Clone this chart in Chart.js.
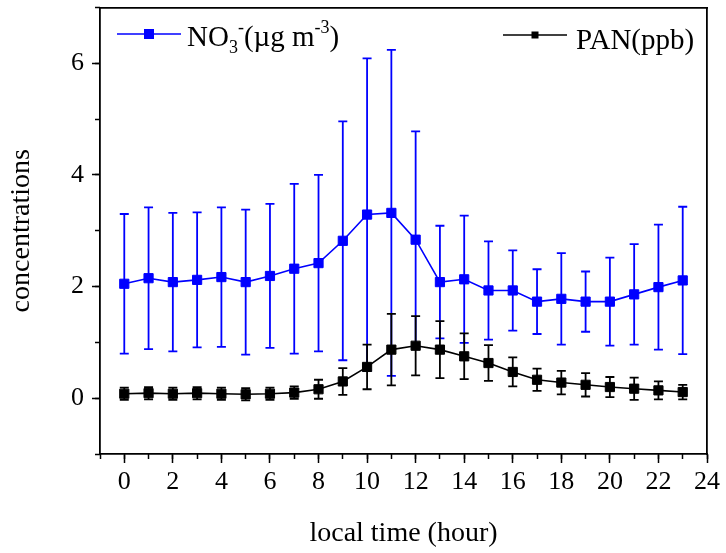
<!DOCTYPE html>
<html>
<head>
<meta charset="utf-8">
<script src="https://cdn.jsdelivr.net/npm/chart.js@4"></script>
<style>
  html, body { margin:0; padding:0; background:#fff; }
  canvas { display:block; }
</style>
</head>
<body>
<canvas id="chart" width="726" height="553"></canvas>
<script>
// hourly means with standard deviations
const hours  = [0,1,2,3,4,5,6,7,8,9,10,11,12,13,14,15,16,17,18,19,20,21,22,23];
const no3    = [2.05,2.15,2.08,2.12,2.17,2.08,2.19,2.32,2.42,2.82,3.29,3.32,2.84,2.08,2.13,1.93,1.93,1.73,1.78,1.73,1.73,1.86,1.99,2.11];
const no3Err = [1.25,1.27,1.24,1.21,1.25,1.30,1.29,1.52,1.58,2.14,2.80,2.92,1.94,1.01,1.14,0.88,0.72,0.58,0.82,0.54,0.79,0.90,1.12,1.32];
const pan    = [0.08,0.09,0.08,0.09,0.08,0.07,0.08,0.10,0.16,0.30,0.56,0.87,0.94,0.87,0.75,0.63,0.47,0.33,0.28,0.24,0.20,0.17,0.14,0.11];
const panErr = [0.11,0.11,0.11,0.11,0.11,0.11,0.11,0.11,0.17,0.24,0.40,0.64,0.53,0.51,0.41,0.32,0.26,0.20,0.21,0.21,0.18,0.20,0.16,0.13];

const xMajorTicks = [0,2,4,6,8,10,12,14,16,18,20,22,24];
const xMinorTicks = [-1,0,1,2,3,4,5,6,7,8,9,10,11,12,13,14,15,16,17,18,19,20,21,22,23,24];
const yMajorTicks = [0,2,4,6];
const yMinorTicks = [-1,0,1,2,3,4,5,6,7];

const serif = 'Liberation Serif, Times New Roman, serif';
const BLUE = '#0000ff';

const pts = (ys) => hours.map((h,i)=>({x:h, y:ys[i]}));
const setTicks = (list) => (s) => { s.ticks = list.map(v=>({value:v})); };

// fixed axis thickness, and no extra room for labels hanging over the ends
const fixSize = (size) => (s) => {
  if (s.isHorizontal()) s.height = size; else s.width = size;
  s.paddingLeft = s.paddingRight = s.paddingTop = s.paddingBottom = 0;
};

// vertical error bars with caps, drawn under the lines/markers
const errorBars = {
  id:'errorBars',
  beforeDatasetsDraw(chart){
    const ctx = chart.ctx, xs = chart.scales.x, ys = chart.scales.y;
    chart.data.datasets.forEach(ds=>{
      ctx.save();
      ctx.strokeStyle = ds.borderColor;
      ctx.lineWidth = 1.8;
      ds.data.forEach((p,i)=>{
        const e = ds.errors[i];
        const px = xs.getPixelForValue(p.x);
        const top = ys.getPixelForValue(p.y + e);
        const bot = ys.getPixelForValue(p.y - e);
        ctx.beginPath();
        ctx.moveTo(px, top); ctx.lineTo(px, bot);
        ctx.moveTo(px-4.5, top); ctx.lineTo(px+4.5, top);
        ctx.moveTo(px-4.5, bot); ctx.lineTo(px+4.5, bot);
        ctx.stroke();
      });
      ctx.restore();
    });
  }
};

// two legend entries inside the plot, one per top corner
const cornerLegend = {
  id:'cornerLegend',
  afterDraw(chart){
    const ctx = chart.ctx;
    const big = '29px ' + serif, small = '18px ' + serif;
    function sample(x0, x1, y, color, size){
      ctx.strokeStyle = color; ctx.lineWidth = 1.6;
      ctx.beginPath(); ctx.moveTo(x0, y); ctx.lineTo(x1, y); ctx.stroke();
      ctx.fillStyle = color;
      const m = (x0+x1)/2;
      ctx.fillRect(m-size/2, y-size/2, size, size);
    }
    function put(text, x, y, font){
      ctx.font = font;
      ctx.fillText(text, x, y);
      return x + ctx.measureText(text).width;
    }
    ctx.save();
    ctx.textBaseline = 'alphabetic';
    ctx.textAlign = 'left';

    sample(117, 181, 34, BLUE, 10);
    ctx.fillStyle = '#000';
    let x = put('NO', 187, 46, big);
    const sx = x;
    put('3', sx, 53, small);
    x = put('-', sx + 9, 33, small);
    x = put('(\u00b5g m', x, 46, big);
    x = put('-3', x, 33, small);
    put(')', x, 46, big);

    sample(503, 567, 35, '#000', 7);
    ctx.fillStyle = '#000';
    put('PAN(ppb)', 576, 49, big);
    ctx.restore();
  }
};

const frameAxis = (pos, min, max) => ({
  type:'linear', position:pos, min:min, max:max,
  afterFit: fixSize(0),
  ticks:{ display:false },
  grid:{ drawOnChartArea:false, drawTicks:false },
  border:{ color:'#000', width:1.8 }
});

const minorAxis = (pos, min, max, list) => ({
  type:'linear', position:pos, min:min, max:max, weight:0,
  afterBuildTicks: setTicks(list),
  afterFit: fixSize(0),
  ticks:{ display:false },
  grid:{ drawOnChartArea:false, tickLength:5, tickColor:'#000', tickWidth:1.5 },
  border:{ display:false }
});

new Chart(document.getElementById('chart'), {
  type:'line',
  data:{
    datasets:[
      {
        label:'NO3-', data:pts(no3), errors:no3Err,
        xAxisID:'x', yAxisID:'y',
        borderColor:BLUE, backgroundColor:BLUE, borderWidth:1.6,
        pointStyle:'rect', pointRadius:6.5, pointBorderWidth:1, tension:0
      },
      {
        label:'PAN', data:pts(pan), errors:panErr,
        xAxisID:'x', yAxisID:'y',
        borderColor:'#000', backgroundColor:'#000', borderWidth:1.6,
        pointStyle:'rect', pointRadius:6.5, pointBorderWidth:1, tension:0
      }
    ]
  },
  options:{
    responsive:false,
    animation:false,
    events:[],
    layout:{ padding:{ left:0, top:7, right:19, bottom:0 } },
    plugins:{ legend:{ display:false }, tooltip:{ enabled:false } },
    scales:{
      x:{
        type:'linear', position:'bottom', weight:1, min:-1, max:24,
        afterBuildTicks: setTicks(xMajorTicks),
        afterFit: fixSize(99),
        ticks:{ font:{ family:serif, size:26 }, color:'#000', padding:4, maxRotation:0, autoSkip:false },
        grid:{ drawOnChartArea:false, tickLength:9, tickColor:'#000', tickWidth:1.5 },
        border:{ color:'#000', width:1.8 },
        title:{ display:true, text:'local time (hour)', color:'#000',
                font:{ family:serif, size:28, lineHeight:1.2 }, padding:{ top:0, bottom:3 } }
      },
      xMinor: minorAxis('bottom', -1, 24, xMinorTicks),
      y:{
        type:'linear', position:'left', weight:1, min:-1, max:7,
        afterBuildTicks: setTicks(yMajorTicks),
        afterFit: fixSize(100),
        ticks:{ font:{ family:serif, size:26 }, color:'#000', padding:8 },
        grid:{ drawOnChartArea:false, tickLength:8, tickColor:'#000', tickWidth:1.5 },
        border:{ color:'#000', width:1.8 },
        title:{ display:true, text:'concentrations', color:'#000',
                font:{ family:serif, size:28, lineHeight:1.2 }, padding:{ top:5, bottom:0 } }
      },
      yMinor: minorAxis('left', -1, 7, yMinorTicks),
      xTop: frameAxis('top', -1, 24),
      yRight: frameAxis('right', -1, 7)
    }
  },
  plugins:[errorBars, cornerLegend]
});
</script>
</body>
</html>
